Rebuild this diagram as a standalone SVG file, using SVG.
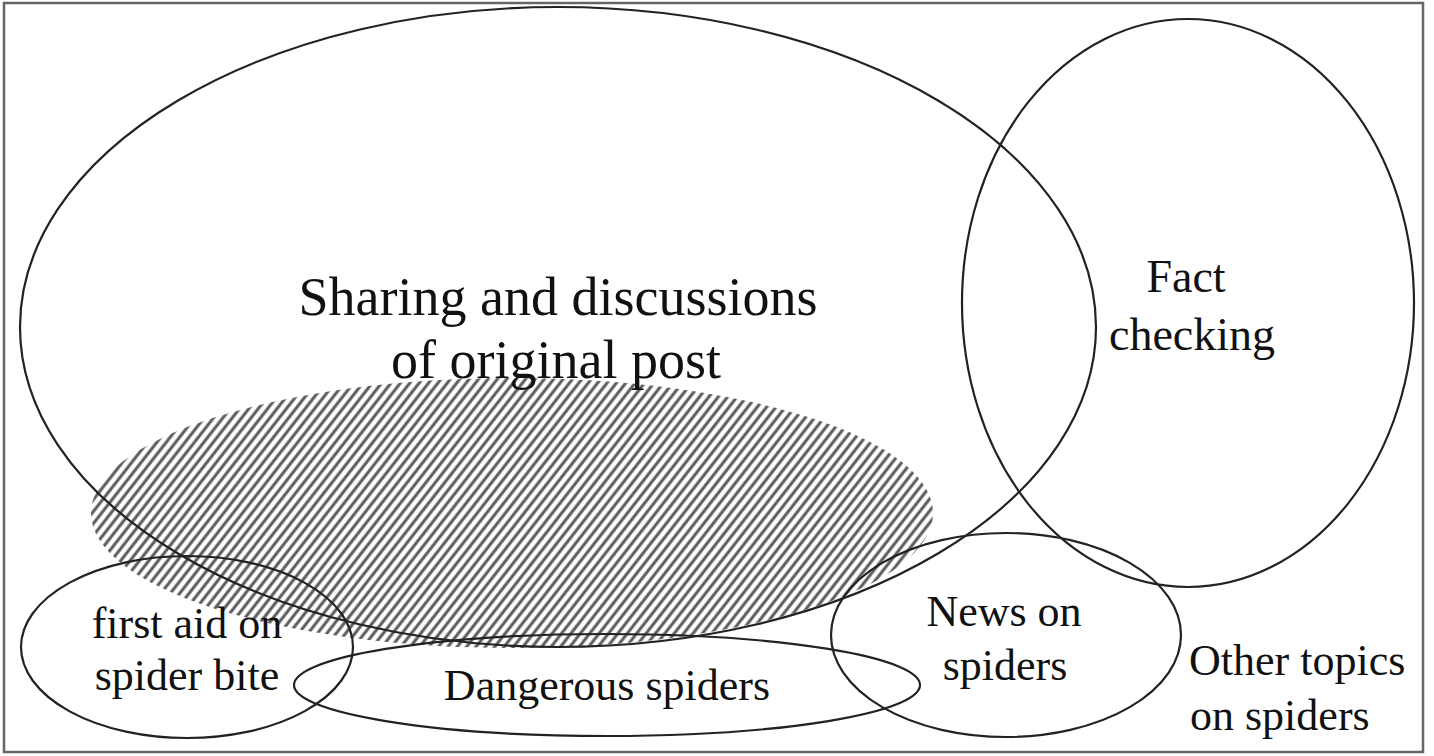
<svg xmlns="http://www.w3.org/2000/svg" width="1434" height="756" viewBox="0 0 1434 756">
<style>
.o{fill:none;stroke:#222;stroke-width:2.2}
.t{font-family:"Liberation Serif","Times New Roman",serif;fill:#111;text-anchor:middle}
.l{text-anchor:start}
</style>
<defs>
<pattern id="hatch" patternUnits="userSpaceOnUse" width="7.4" height="7.4" patternTransform="rotate(38)">
<rect width="7.4" height="7.4" fill="#fff"/>
<line x1="3.7" y1="0" x2="3.7" y2="7.4" stroke="#5a5a5a" stroke-width="3"/>
</pattern>
</defs>
<rect x="0" y="0" width="1434" height="756" fill="#fff"/>
<rect x="4" y="3" width="1419" height="749" fill="none" stroke="#666" stroke-width="2.5"/>
<g id="hatched-area">
<ellipse cx="512" cy="513" rx="421" ry="135" fill="url(#hatch)"/>
</g>
<g id="sharing">
<ellipse class="o" cx="558" cy="327" rx="538" ry="320"/>
<text class="t" font-size="54" x="558" y="315">Sharing and discussions</text>
<text class="t" font-size="54" x="556" y="378">of original post</text>
</g>
<g id="fact-checking">
<ellipse class="o" cx="1188" cy="303" rx="226" ry="284"/>
<text class="t" font-size="46" x="1186" y="292">Fact</text>
<text class="t" font-size="46" x="1192" y="350">checking</text>
</g>
<g id="first-aid">
<ellipse class="o" cx="187" cy="647" rx="166" ry="91"/>
<text class="t" font-size="44" x="187" y="638">first aid on</text>
<text class="t" font-size="44" x="187" y="690">spider bite</text>
</g>
<g id="dangerous">
<ellipse class="o" cx="607" cy="685" rx="313" ry="51"/>
<text class="t" font-size="44" x="607" y="700">Dangerous spiders</text>
</g>
<g id="news">
<ellipse class="o" cx="1006" cy="635" rx="175" ry="102"/>
<text class="t" font-size="44" x="1004" y="626">News on</text>
<text class="t" font-size="44" x="1005" y="680">spiders</text>
</g>
<g id="other-topics">
<text class="t l" font-size="44" x="1189" y="675">Other topics</text>
<text class="t l" font-size="44" x="1190" y="730">on spiders</text>
</g>
<g id="connectors"/>
</svg>
